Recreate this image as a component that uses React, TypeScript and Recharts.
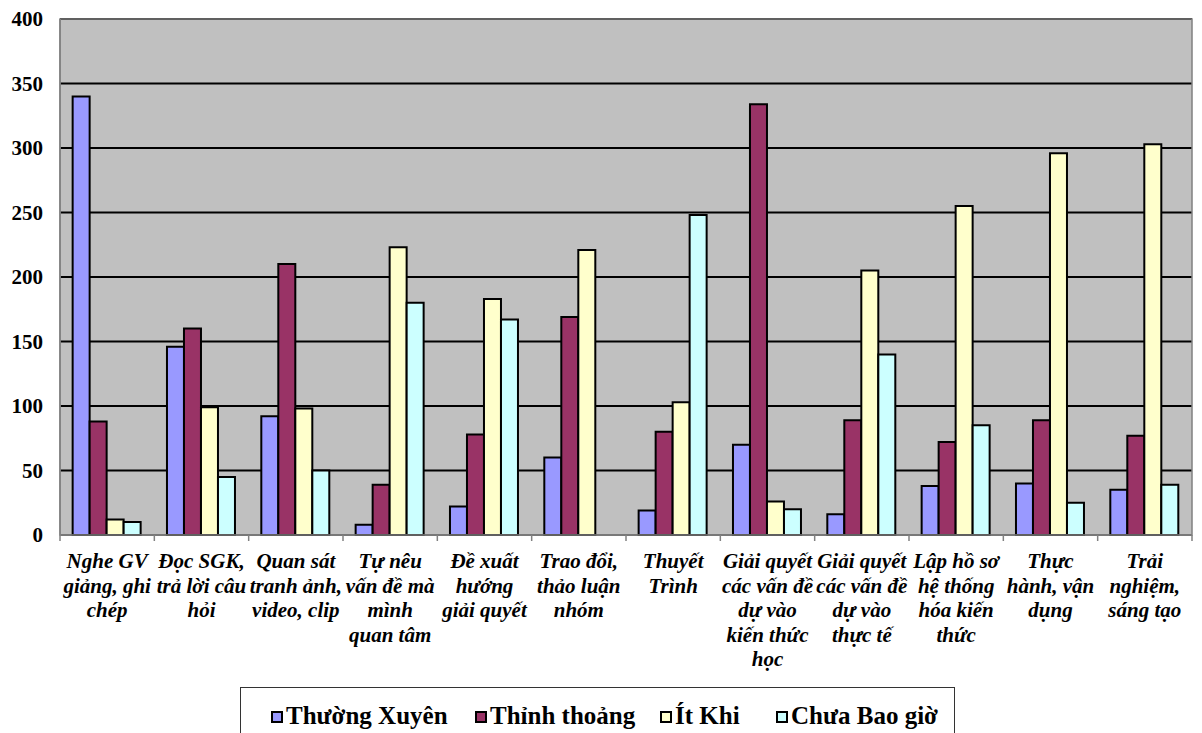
import React from 'react';
import { BarChart, Bar, XAxis, YAxis, CartesianGrid, ReferenceArea } from 'recharts';

const categories = [
  'Nghe GV\ngiảng, ghi\nchép',
  'Đọc SGK,\ntrả lời câu\nhỏi',
  'Quan sát\ntranh ảnh,\nvideo, clip',
  'Tự nêu\nvấn đề mà\nmình\nquan tâm',
  'Đề xuất\nhướng\ngiải quyết',
  'Trao đổi,\nthảo luận\nnhóm',
  'Thuyết\nTrình',
  'Giải quyết\ncác vấn đề\ndự vào\nkiến thức\nhọc',
  'Giải quyết\ncác vấn đề\ndự vào\nthực tế',
  'Lập hồ sơ\nhệ thống\nhóa kiến\nthức',
  'Thực\nhành, vận\ndụng',
  'Trải\nnghiệm,\nsáng tạo',
];

const thuongXuyen = [340, 146, 92, 8, 22, 60, 19, 70, 16, 38, 40, 35];
const thinhThoang = [88, 160, 210, 39, 78, 169, 80, 334, 89, 72, 89, 77];
const itKhi = [12, 99, 98, 223, 183, 221, 103, 26, 205, 255, 296, 303];
const chuaBaoGio = [10, 45, 50, 180, 167, 0, 248, 20, 140, 85, 25, 39];

const yTicks = [0, 50, 100, 150, 200, 250, 300, 350, 400];

const series = [
  { key: 'thuongXuyen', name: 'Thường Xuyên', color: '#9999FF', values: thuongXuyen },
  { key: 'thinhThoang', name: 'Thỉnh thoảng', color: '#993366', values: thinhThoang },
  { key: 'itKhi', name: 'Ít Khi', color: '#FFFFCC', values: itKhi },
  { key: 'chuaBaoGio', name: 'Chưa Bao giờ', color: '#CCFFFF', values: chuaBaoGio },
];

const data = categories.map((name, i) => {
  const row: Record<string, string | number> = { name };
  series.forEach((s) => {
    row[s.key] = s.values[i];
  });
  return row;
});

const FONT = "'Liberation Serif', 'Times New Roman', serif";
const WIDTH = 1202;
const HEIGHT = 733;
const MARGIN = { top: 19, right: 10, left: 0, bottom: 0 };
const Y_AXIS_W = 60;
const PLOT_BOTTOM = 535;
const CAT_W = (WIDTH - MARGIN.right - Y_AXIS_W) / categories.length;
const LINE_H = 24.5;
// legend slot widths, one per series
const LEGEND_SLOTS = [204, 185, 116, 170];

const CategoryTick = (props: any) => {
  const { x, y, payload, index } = props;
  const lines = String(payload.value).split('\n');
  const half = CAT_W / 2;
  return (
    <g>
      <line x1={x - half} y1={y} x2={x - half} y2={y + 6} stroke="#808080" strokeWidth={1.5} />
      {index === categories.length - 1 && (
        <line x1={x + half} y1={y} x2={x + half} y2={y + 6} stroke="#808080" strokeWidth={1.5} />
      )}
      <text
        x={x}
        y={y + 33}
        textAnchor="middle"
        fontFamily={FONT}
        fontSize={21}
        fontWeight="bold"
        fontStyle="italic"
        fill="#000"
      >
        {lines.map((line, i) => (
          <tspan key={i} x={x} dy={i === 0 ? 0 : LINE_H}>
            {line}
          </tspan>
        ))}
      </text>
    </g>
  );
};

const ChartLegend = () => (
  <div
    style={{
      position: 'absolute',
      left: 240,
      top: 687,
      width: 715,
      height: 60,
      border: '1.5px solid #333',
      boxSizing: 'border-box',
      background: '#fff',
      fontFamily: FONT,
      fontWeight: 'bold',
      fontSize: 25,
      display: 'flex',
      alignItems: 'flex-start',
      paddingTop: 14,
      paddingLeft: 30,
    }}
  >
    {series.map((s, i) => (
      <div
        key={s.key}
        style={{ display: 'flex', alignItems: 'center', width: LEGEND_SLOTS[i], lineHeight: '28px', whiteSpace: 'nowrap' }}
      >
        <span
          style={{
            display: 'inline-block',
            width: 12,
            height: 12,
            background: s.color,
            border: '2px solid #000',
            boxSizing: 'border-box',
            marginRight: 3,
            marginTop: 2,
          }}
        />
        <span>{s.name}</span>
      </div>
    ))}
  </div>
);

export default function App() {
  return (
    <div style={{ position: 'absolute', left: 0, top: 0, width: WIDTH, height: HEIGHT, background: '#fff', overflow: 'hidden' }}>
      <BarChart
        width={WIDTH}
        height={HEIGHT}
        data={data}
        margin={MARGIN}
        barCategoryGap="13.4%"
        barGap={0}
      >
        <CartesianGrid horizontal vertical={false} fill="#C0C0C0" stroke="#000" strokeWidth={2} />
        <XAxis
          dataKey="name"
          interval={0}
          height={HEIGHT - PLOT_BOTTOM - MARGIN.bottom}
          axisLine={{ stroke: '#808080', strokeWidth: 1.5 }}
          tickLine={false}
          tickSize={0}
          tickMargin={0}
          tick={<CategoryTick />}
        />
        <YAxis
          width={Y_AXIS_W}
          domain={[0, 400]}
          ticks={yTicks}
          interval={0}
          axisLine={{ stroke: '#808080', strokeWidth: 1.5 }}
          tickLine={false}
          tickSize={0}
          tickMargin={17}
          tick={{ fill: '#000', fontSize: 21, fontWeight: 'bold', fontFamily: FONT }}
        />
        <ReferenceArea y1={0} y2={400} fill="none" stroke="#808080" strokeWidth={1.5} />
        {series.map((s) => (
          <Bar
            key={s.key}
            dataKey={s.key}
            name={s.name}
            fill={s.color}
            stroke="#000"
            strokeWidth={2}
            isAnimationActive={false}
          />
        ))}
      </BarChart>
      <ChartLegend />
    </div>
  );
}
